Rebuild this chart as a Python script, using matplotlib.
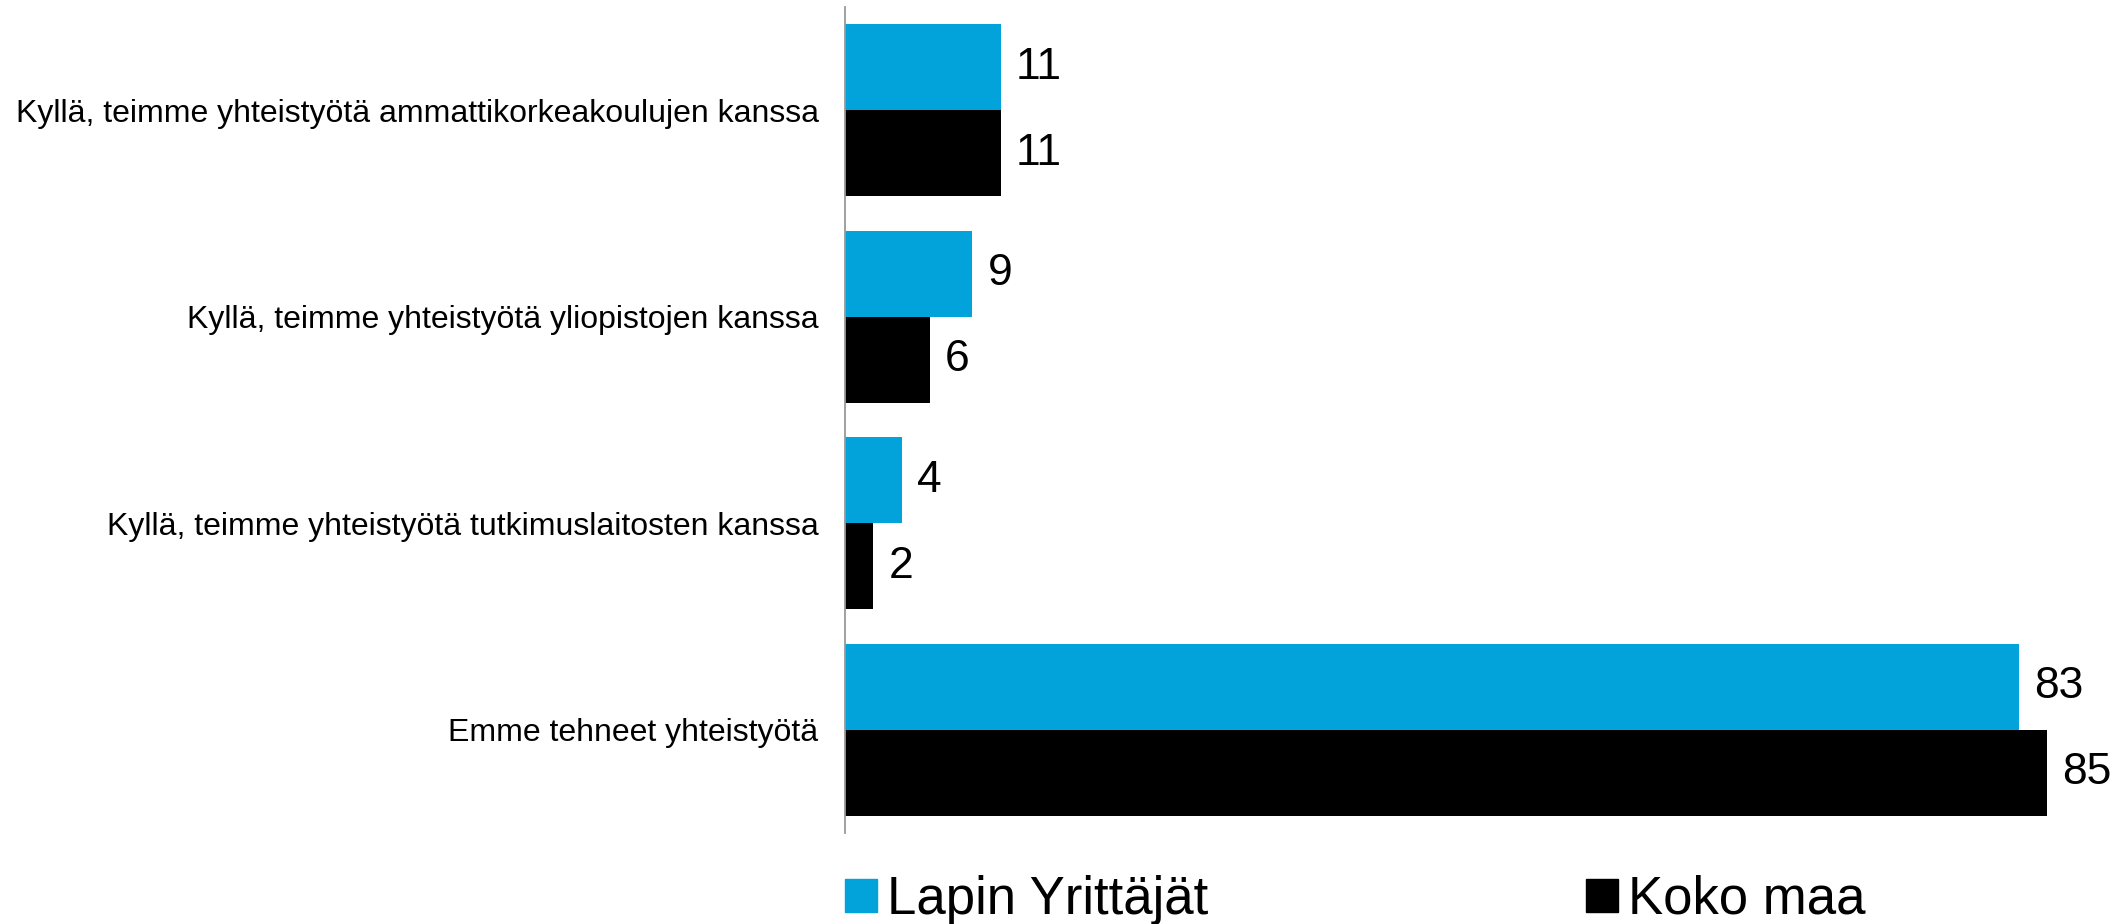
import numpy as np
import matplotlib.pyplot as plt
from matplotlib.patches import Patch

plt.rcParams['font.family'] = ['Liberation Sans', 'DejaVu Sans']

categories = [
    'Kyllä, teimme yhteistyötä ammattikorkeakoulujen kanssa',
    'Kyllä, teimme yhteistyötä yliopistojen kanssa',
    'Kyllä, teimme yhteistyötä tutkimuslaitosten kanssa',
    'Emme tehneet yhteistyötä',
]
series_names = ['Lapin Yrittäjät', 'Koko maa']
lappi = [11, 9, 4, 83]
koko_maa = [11, 6, 2, 85]

blue = '#02A3DA'
black = '#000000'

fig = plt.figure(figsize=(21.23, 9.24), dpi=100)
ax = fig.add_axes([845 / 2123, 91 / 924, 1273 / 2123, 826 / 924])

y = np.arange(len(categories))
h = 0.416
b1 = ax.barh(y - h / 2, lappi, height=h, color=blue)
b2 = ax.barh(y + h / 2, koko_maa, height=h, color=black)

for bars in (b1, b2):
    lbls = ax.bar_label(bars, padding=11, fontsize=32, color='black')
    for t in lbls:
        t.set_clip_on(False)

ax.set_xlim(0, 90)
ax.set_ylim(len(categories) - 0.5, -0.5)
ax.set_yticks(y)
ax.set_yticklabels(categories, fontsize=23)
ax.tick_params(axis='y', length=0, pad=19)
ax.set_xticks([])

for s in ['top', 'right', 'bottom']:
    ax.spines[s].set_visible(False)
ax.spines['left'].set_color('#999999')
ax.spines['left'].set_linewidth(1.3)

handles = [Patch(color=blue), Patch(color=black)]
fig.legend(handles, series_names, loc='center left',
           bbox_to_anchor=(845 / 2123, 1 - 900 / 924), ncol=2,
           frameon=False, fontsize=38, handlelength=0.6, handleheight=0.6,
           handletextpad=0.2, columnspacing=7.15, borderpad=0, borderaxespad=0)

fig.savefig('out.png', dpi=100)
